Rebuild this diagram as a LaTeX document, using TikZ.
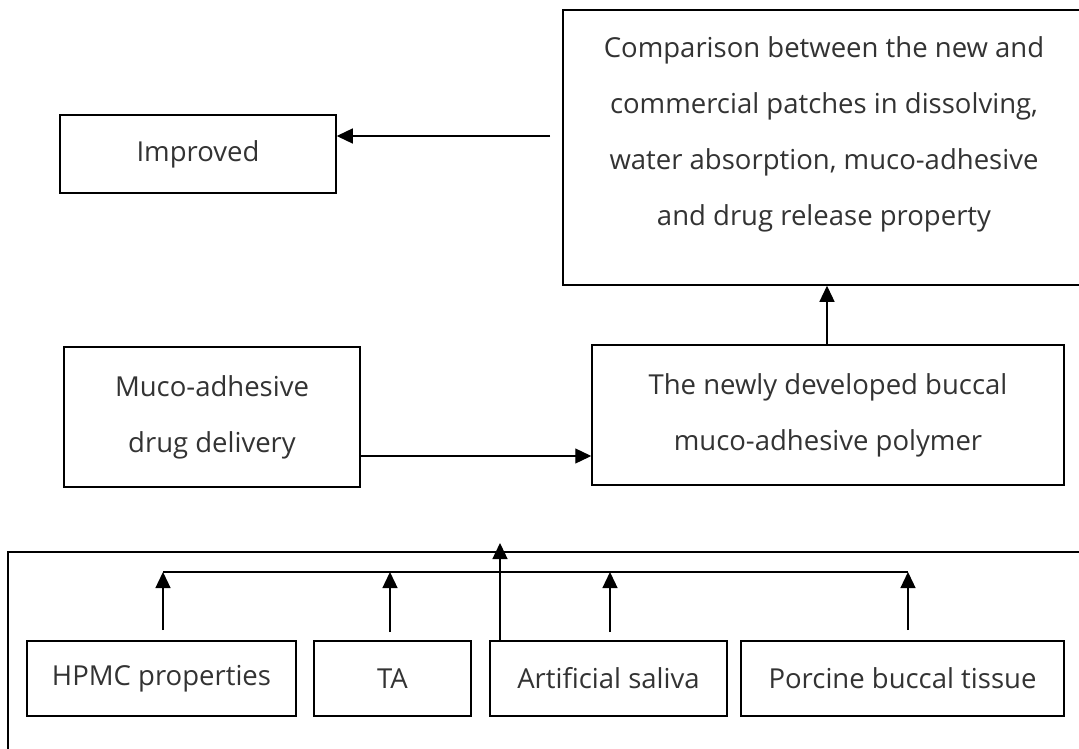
\documentclass[tikz,border=0pt]{standalone}
\usepackage{fontspec}
\setmainfont{Open Sans}
\usetikzlibrary{arrows.meta}
\begin{document}
\begin{tikzpicture}[x=1pt,y=-1pt,
  box/.style={draw=black,line width=1.5pt,inner sep=0pt,align=center,
    font=\fontsize{27.5}{56}\selectfont,text=black!80},
  arr/.style={line width=1.3pt,-{Triangle[length=16pt,width=15pt]}},
  ln/.style={line width=1.3pt}]
\useasboundingbox (0,0) rectangle (1079,749);
\clip (0,0) rectangle (1079,749);
\fill[white] (0,0) rectangle (1079,749);
% boxes
\node[box,minimum width=276pt,minimum height=78pt] (imp) at (198,154) {Improved};
\node[box,minimum width=522pt,minimum height=275pt] (cmp) at (824,147.5) {};
\node[align=center,font=\fontsize{27.5}{56}\selectfont,text=black!80,inner sep=0pt] (cmptext) at (824,134)
  {Comparison between the new and\\commercial patches in dissolving,\\water absorption, muco-adhesive\\and drug release property};
\node[box,minimum width=296pt,minimum height=140pt] (muco) at (212,417) {Muco-adhesive\\drug delivery};
\node[box,minimum width=472pt,minimum height=140pt] (newly) at (828,415) {The newly developed buccal\\muco-adhesive polymer};
\node[box,minimum width=1092pt,minimum height=218pt] (frame) at (554,661) {};
\node[box,minimum width=269pt,minimum height=75pt] (hpmc) at (161.5,678.5) {HPMC properties};
\node[box,minimum width=157pt,minimum height=75pt] (ta) at (392.5,678.5) {TA};
\node[box,minimum width=237pt,minimum height=75pt] (art) at (608.5,678.5) {Artificial saliva};
\node[box,minimum width=323pt,minimum height=75pt] (por) at (902.5,678.5) {Porcine buccal tissue};
% coordinates
\coordinate (c1) at (550,136);
\coordinate (n1) at (827,0);
\coordinate (m1) at (0,456);
\coordinate (b1) at (163,572);
\coordinate (b2) at (908,572);
\coordinate (bta) at (390,572);
\coordinate (bart) at (610,572);
\coordinate (h1) at (163,630);
\coordinate (t1) at (390,632);
\coordinate (a1) at (610,632);
\coordinate (p1) at (908,630);
\coordinate (v1) at (500,543);
% connectors
\draw[arr] (c1) -- (c1 -| imp.east);
\draw[arr] (n1 |- newly.north) -- (n1 |- cmp.south);
\draw[arr] (m1 -| muco.east) -- (m1 -| newly.west);
\draw[ln] (b1) -- (b2);
\draw[arr] (h1) -- (b1);
\draw[arr] (t1) -- (bta);
\draw[arr] (a1) -- (bart);
\draw[arr] (p1) -- (b2);
\draw[arr] (v1 |- art.north) -- (v1);
\end{tikzpicture}
\end{document}
